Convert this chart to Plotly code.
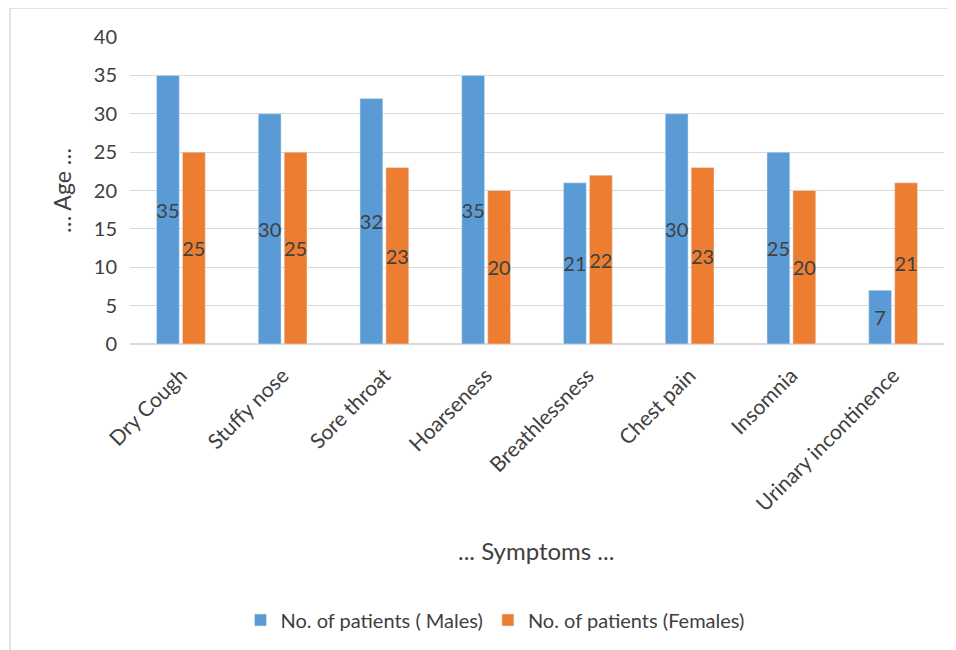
import plotly.graph_objects as go

categories = ["Dry Cough", "Stuffy nose", "Sore throat", "Hoarseness",
              "Breathlessness", "Chest pain", "Insomnia", "Urinary incontinence"]
males = [35, 30, 32, 35, 21, 30, 25, 7]
females = [25, 25, 23, 20, 22, 23, 20, 21]
y_ticks = [0, 5, 10, 15, 20, 25, 30, 35, 40]

FONT = "Lato"
OFF = 8  # page body margin
W, H = 956 - OFF, 650 - OFF
L = 130 - OFF
T = 37 - OFF
R = W - (944 - OFF)
B = H - (344 - OFF)
pw, ph = W - L - R, H - T - B

def px_x(x):
    return (x - OFF - L) / pw

def px_y(y):
    return (H - B - (y - OFF)) / ph

fig = go.Figure()
fig.add_trace(go.Bar(
    x=categories, y=males, name="No. of patients ( Males)",
    marker=dict(color="#5B9BD5"),
    text=[str(v) for v in males], textposition="inside",
    insidetextanchor="middle", textangle=0, constraintext="none",
    textfont=dict(family=FONT, size=20, color="#404040"),
))
fig.add_trace(go.Bar(
    x=categories, y=females, name="No. of patients (Females)",
    marker=dict(color="#ED7D31"),
    text=[str(v) for v in females], textposition="inside",
    insidetextanchor="middle", textangle=0, constraintext="none",
    textfont=dict(family=FONT, size=20, color="#404040"),
))

fig.update_layout(
    width=W, height=H,
    margin=dict(l=L, r=R, t=T, b=B, autoexpand=False),
    paper_bgcolor="white", plot_bgcolor="white",
    barmode="group", bargap=0.49, bargroupgap=0.12,
    font=dict(family=FONT, size=20, color="#404040"),
    showlegend=True,
    legend=dict(orientation="h", x=px_x(495), y=px_y(620),
                xanchor="center", yanchor="middle",
                font=dict(family=FONT, size=20, color="#404040"),
                itemwidth=30, tracegroupgap=0),
    xaxis=dict(tickangle=-45, showgrid=False, showline=True,
               linecolor="#d9d9d9", linewidth=1, ticks="",
               ticklabelstandoff=10,
               tickfont=dict(family=FONT, size=21, color="#404040"),
               automargin=False),
    yaxis=dict(range=[0, 40], tickvals=y_ticks, showgrid=True,
               gridcolor="#d9d9d9", gridwidth=1, zeroline=True,
               zerolinecolor="#d9d9d9", showline=False, ticks="",
               ticklabelstandoff=12,
               tickfont=dict(family=FONT, size=20, color="#404040"),
               automargin=False),
    annotations=[
        dict(text="... Symptoms ...", xref="paper", yref="paper",
             x=px_x(536), y=px_y(550), showarrow=False,
             xanchor="center", yanchor="middle",
             font=dict(family=FONT, size=24, color="#404040")),
        dict(text="… Age …", xref="paper", yref="paper",
             x=px_x(62), y=px_y(191), showarrow=False, textangle=-90,
             xanchor="center", yanchor="middle",
             font=dict(family=FONT, size=23, color="#404040")),
    ],
    shapes=[
        dict(type="line", xref="paper", yref="paper",
             x0=px_x(10), x1=px_x(10), y0=px_y(8), y1=px_y(700),
             line=dict(color="#d9d9d9", width=1.5)),
        dict(type="line", xref="paper", yref="paper",
             x0=px_x(10), x1=px_x(1000), y0=px_y(8), y1=px_y(8),
             line=dict(color="#d9d9d9", width=1.5)),
    ],
)

fig.write_html("out.html")
